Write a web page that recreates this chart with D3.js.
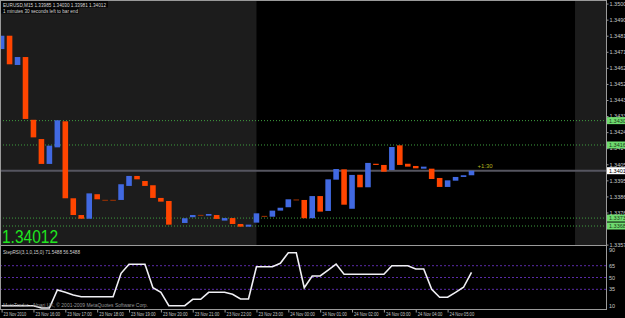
<!DOCTYPE html>
<html>
<head>
<meta charset="utf-8">
<script src="https://cdn.jsdelivr.net/npm/d3@7"></script>
<style>
  html, body { margin: 0; padding: 0; background: #000; overflow: hidden; }
  svg { display: block; }
  text { font-family: 'Liberation Sans', Arial, sans-serif; }
</style>
</head>
<body>
<div id="chart"></div>
<script>
// EURUSD M15 bars, 23 Nov 2010 15:00 -> 24 Nov 2010 05:45
const barTimes = [
  '2010-11-23 15:00', '2010-11-23 15:15', '2010-11-23 15:30', '2010-11-23 15:45',
  '2010-11-23 16:00', '2010-11-23 16:15', '2010-11-23 16:30', '2010-11-23 16:45',
  '2010-11-23 17:00', '2010-11-23 17:15', '2010-11-23 17:30', '2010-11-23 17:45',
  '2010-11-23 18:00', '2010-11-23 18:15', '2010-11-23 18:30', '2010-11-23 18:45',
  '2010-11-23 19:00', '2010-11-23 19:15', '2010-11-23 19:30', '2010-11-23 19:45',
  '2010-11-23 20:00', '2010-11-23 20:15', '2010-11-23 20:30', '2010-11-23 20:45',
  '2010-11-23 21:00', '2010-11-23 21:15', '2010-11-23 21:30', '2010-11-23 21:45',
  '2010-11-23 22:00', '2010-11-23 22:15', '2010-11-23 22:30', '2010-11-23 22:45',
  '2010-11-23 23:00', '2010-11-23 23:15', '2010-11-23 23:30', '2010-11-23 23:45',
  '2010-11-24 00:00', '2010-11-24 00:15', '2010-11-24 00:30', '2010-11-24 00:45',
  '2010-11-24 01:00', '2010-11-24 01:15', '2010-11-24 01:30', '2010-11-24 01:45',
  '2010-11-24 02:00', '2010-11-24 02:15', '2010-11-24 02:30', '2010-11-24 02:45',
  '2010-11-24 03:00', '2010-11-24 03:15', '2010-11-24 03:30', '2010-11-24 03:45',
  '2010-11-24 04:00', '2010-11-24 04:15', '2010-11-24 04:30', '2010-11-24 04:45',
  '2010-11-24 05:00', '2010-11-24 05:15', '2010-11-24 05:30', '2010-11-24 05:45'
]

const opens = [
  1.34731, 1.34810, 1.34637, 1.34684, 1.34313, 1.34199, 1.34052, 1.34150, 1.34304, 1.33849,
  1.33750, 1.33728, 1.33873, 1.33837, 1.33837, 1.33839, 1.33922, 1.33981, 1.33951, 1.33926,
  1.33851, 1.33833, null, 1.33703, 1.33737, 1.33748, 1.33746, 1.33750, 1.33717, 1.33732,
  1.33697, 1.33681, 1.33705, 1.33742, 1.33740, 1.33776, 1.33796, 1.33839, 1.33839, 1.33731,
  1.33862, 1.33774, 1.33959, 1.34020, 1.33787, 1.33988, 1.33914, 1.34053, 1.34046, 1.34016,
  1.34162, 1.34053, 1.34040, 1.34024, 1.34024, 1.33969, 1.33916, 1.33953, 1.33975, 1.33985
]
const closes = [
  1.34810, 1.34641, 1.34684, 1.34318, 1.34209, 1.34052, 1.34160, 1.34310, 1.33849, 1.33750,
  1.33728, 1.33878, 1.33843, 1.33837, 1.33837, 1.33932, 1.33981, 1.33961, 1.33922, 1.33851,
  1.33829, 1.33693, null, 1.33731, 1.33750, 1.33748, 1.33756, 1.33727, 1.33732, 1.33697,
  1.33681, 1.33693, 1.33760, 1.33742, 1.33776, 1.33793, 1.33843, 1.33839, 1.33731, 1.33862,
  1.33770, 1.33961, 1.34022, 1.33811, 1.33987, 1.33914, 1.34058, 1.34046, 1.34006, 1.34152,
  1.34046, 1.34036, 1.34026, 1.34036, 1.33963, 1.33916, 1.33955, 1.33975, 1.33985, 1.34012
]
const lastHigh = 1.34030
const lastLow = 1.33981

const stepRsi = [
  14.2, 14.2, 14.2, 14.2, 14.2, 11.3, 11.3, 34.1, 31.2, 27.8,
  25.6, 25.6, 25.6, 25.6, 25.6, 55.3, 66.8, 66.8, 66.8, 37.0,
  31.2, 14.2, 14.2, 14.2, 22.3, 22.3, 31.2, 31.2, 31.2, 28.7,
  22.7, 22.7, 63.7, 63.7, 63.7, 68.0, 81.5, 81.5, 37.0, 51.9,
  51.9, 59.5, 67.1, 54.1, 54.1, 54.1, 54.1, 54.1, 54.1, 65.0,
  65.0, 65.0, 60.8, 60.8, 35.0, 24.9, 24.9, 31.2, 37.6, 56.5
]

const priceTicks = [1.35000, 1.34905, 1.34810, 1.34715, 1.34620, 1.34525, 1.34430, 1.34335,
  1.34240, 1.34145, 1.34050, 1.33955, 1.33860, 1.33765, 1.33575]
const levelPrices = [1.34308, 1.34164, 1.33732, 1.33685]
const rsiTicks = [90, 65, 50, 35, 10]
const rsiLevels = [65, 50, 35]
// shaded (off-session) time spans
const shadeSpans = [['2010-11-23 14:00', '2010-11-23 23:00'], ['2010-11-24 09:00', '2010-11-24 11:00']]

const parse = d3.timeParse('%Y-%m-%d %H:%M')
const bars = barTimes.map((t, i) => ({ t: parse(t), o: opens[i], c: closes[i] }))

let svgWidth = 625,
  svgHeight = 318
let plotRight = 606
let mainTop = 0, mainBottom = 245
let indTop = 246, indBottom = 309

let svg = d3.select('#chart').append('svg')
  .attr('width', svgWidth)
  .attr('height', svgHeight)

svg.append('rect').attr('width', svgWidth).attr('height', svgHeight).attr('fill', '#000')

// scales
let x = d3.scaleTime()
  .domain([bars[0].t, bars[bars.length - 1].t])
  .range([1.6, 471.5])
let step = x(bars[1].t) - x(bars[0].t)

let lastClose = closes[closes.length - 1]
let pxPerPrice = 16.07 / 0.00095
let y = d3.scaleLinear()
  .domain([1.335, 1.351])
  .range([170.7 + (lastClose - 1.335) * pxPerPrice, 170.7 - (1.351 - lastClose) * pxPerPrice])

let yr = d3.scaleLinear().domain([10, 90]).range([indBottom, indTop])

// clip for main window
svg.append('clipPath').attr('id', 'mainClip')
  .append('rect').attr('x', 1).attr('y', 1).attr('width', plotRight - 1).attr('height', mainBottom - 1)

let main = svg.append('g').attr('clip-path', 'url(#mainClip)')

// shaded spans
main.selectAll('.shade')
  .data(shadeSpans)
  .enter()
  .append('rect')
  .attr('class', 'shade')
  .attr('x', (d) => Math.max(0, x(parse(d[0]))))
  .attr('y', mainTop)
  .attr('width', (d) => Math.min(plotRight, x(parse(d[1]))) - Math.max(0, x(parse(d[0]))))
  .attr('height', mainBottom - mainTop)
  .attr('fill', '#1c1c1c')

// green level lines
main.selectAll('.lvl')
  .data(levelPrices)
  .enter()
  .append('line')
  .attr('x1', 0).attr('x2', plotRight)
  .attr('y1', (d) => y(d)).attr('y2', (d) => y(d))
  .attr('stroke', '#3f9f3f')
  .attr('stroke-width', 1)
  .attr('stroke-dasharray', '1,2')

// bid line
main.append('line')
  .attr('x1', 0).attr('x2', plotRight)
  .attr('y1', y(lastClose)).attr('y2', y(lastClose))
  .attr('stroke', '#55555f')
  .attr('stroke-width', 2)

// candles
let bodyW = step * 0.7
let candles = bars.filter((d) => d.o != null)
main.selectAll('.body')
  .data(candles.filter((d) => d.o !== d.c))
  .enter()
  .append('rect')
  .attr('x', (d) => x(d.t) - bodyW / 2)
  .attr('y', (d) => y(Math.max(d.o, d.c)))
  .attr('width', bodyW)
  .attr('height', (d) => Math.max(1, Math.abs(y(d.o) - y(d.c))))
  .attr('fill', (d) => (d.c > d.o ? '#4169e1' : '#ff4500'))

main.selectAll('.doji')
  .data(candles.filter((d) => d.o === d.c))
  .enter()
  .append('line')
  .attr('x1', (d) => x(d.t) - bodyW / 2)
  .attr('x2', (d) => x(d.t) + bodyW / 2)
  .attr('y1', (d) => y(d.o)).attr('y2', (d) => y(d.o))
  .attr('stroke', '#a23200')
  .attr('stroke-width', 1)

// countdown label
main.append('text')
  .attr('x', x(bars[bars.length - 1].t) + 6)
  .attr('y', y(lastClose) - 2.5)
  .attr('fill', '#b4b41e')
  .attr('font-size', 6)
  .text('+1:30')

// header texts
main.append('rect').attr('x', 1).attr('y', 1).attr('width', 107).attr('height', 6.5).attr('fill', '#050505')
main.append('rect').attr('x', 1).attr('y', 7.5).attr('width', 78).attr('height', 6).attr('fill', '#050505')
main.append('text')
  .attr('x', 3).attr('y', 6.8)
  .attr('fill', '#d8d8d8').attr('font-size', 6)
  .attr('textLength', 103).attr('lengthAdjust', 'spacingAndGlyphs')
  .text('EURUSD,M15  ' + [opens[opens.length - 1], lastHigh, lastLow, lastClose].map(d3.format('.5f')).join(' '))
main.append('text')
  .attr('x', 3).attr('y', 12.6)
  .attr('fill', '#d8d8d8').attr('font-size', 6)
  .attr('textLength', 75).attr('lengthAdjust', 'spacingAndGlyphs')
  .text('1 minutes 30 seconds left to bar end')

// big price
main.append('text')
  .attr('x', 2).attr('y', 242.5)
  .attr('fill', '#1fe61f')
  .attr('font-size', 19)
  .attr('textLength', 56).attr('lengthAdjust', 'spacingAndGlyphs')
  .text(d3.format('.5f')(lastClose))

// indicator window
svg.append('clipPath').attr('id', 'indClip')
  .append('rect').attr('x', 1).attr('y', indTop).attr('width', plotRight - 1).attr('height', indBottom - indTop)
let ind = svg.append('g').attr('clip-path', 'url(#indClip)')

ind.selectAll('.rl')
  .data(rsiLevels)
  .enter()
  .append('line')
  .attr('x1', 0).attr('x2', plotRight)
  .attr('y1', (d) => yr(d)).attr('y2', (d) => yr(d))
  .attr('stroke', '#5a2aa8')
  .attr('stroke-width', 1)
  .attr('stroke-dasharray', '2,2')

ind.append('path')
  .datum(stepRsi)
  .attr('d', d3.line()
    .x((d, i) => x(bars[i].t))
    .y((d) => yr(d)))
  .attr('fill', 'none')
  .attr('stroke', '#f0f0f4')
  .attr('stroke-width', 1.6)

ind.append('text')
  .attr('x', 3).attr('y', 254)
  .attr('fill', '#d0d0d0').attr('font-size', 5.5)
  .attr('textLength', 77).attr('lengthAdjust', 'spacingAndGlyphs')
  .text('StepRSI(3,1,0,15,0) ' + '71.5488 ' + '56.5488')

ind.append('text')
  .attr('x', 3).attr('y', 307)
  .attr('fill', '#9a9a9a').attr('font-size', 5.5)
  .attr('textLength', 145).attr('lengthAdjust', 'spacingAndGlyphs')
  .text('MetaTrader - Alpari UK, \u00a9 2001-2009 MetaQuotes Software Corp.')

// frames
let frame = svg.append('g').attr('stroke', '#9a9a9a').attr('stroke-width', 1).attr('fill', 'none')
frame.append('line').attr('x1', 0.5).attr('x2', 0.5).attr('y1', 0).attr('y2', indBottom)
frame.append('line').attr('x1', 0).attr('x2', plotRight).attr('y1', 0.5).attr('y2', 0.5)
frame.append('line').attr('x1', 0).attr('x2', plotRight).attr('y1', mainBottom + 0.5).attr('y2', mainBottom + 0.5)
frame.append('line').attr('x1', 0).attr('x2', plotRight).attr('y1', indBottom + 0.5).attr('y2', indBottom + 0.5)
frame.append('line').attr('x1', plotRight + 0.5).attr('x2', plotRight + 0.5).attr('y1', 0).attr('y2', indBottom + 1)

// price axis
let priceAxis = svg.append('g')
  .attr('transform', 'translate(' + (plotRight + 0.5) + ',0)')
  .call(d3.axisRight(y).tickValues(priceTicks).tickFormat(d3.format('.5f')).tickSize(2).tickPadding(1))
priceAxis.select('.domain').remove()
priceAxis.selectAll('line').attr('stroke', '#9a9a9a')
priceAxis.selectAll('text').attr('fill', '#c8c8c8').attr('font-size', 5.5).attr('font-family', null)

// price labels for levels and bid
let tags = svg.append('g')
tags.selectAll('.gtag')
  .data(levelPrices)
  .enter()
  .append('rect')
  .attr('x', plotRight + 1).attr('y', (d) => y(d) - 3.5)
  .attr('width', 20).attr('height', 7)
  .attr('fill', '#6fdc6f')
tags.selectAll('.gtxt')
  .data(levelPrices)
  .enter()
  .append('text')
  .attr('x', plotRight + 3).attr('y', (d) => y(d) + 2)
  .attr('fill', '#1a3a1a').attr('font-size', 5.5)
  .text((d) => d3.format('.5f')(d))
tags.append('rect')
  .attr('x', plotRight + 1).attr('y', y(lastClose) - 3.5)
  .attr('width', 20).attr('height', 7)
  .attr('fill', '#ffffff')
tags.append('text')
  .attr('x', plotRight + 3).attr('y', y(lastClose) + 2)
  .attr('fill', '#000').attr('font-size', 5.5)
  .text(d3.format('.5f')(lastClose))

// indicator axis
let rsiAxis = svg.append('g')
rsiAxis.selectAll('text')
  .data(rsiTicks)
  .enter()
  .append('text')
  .attr('x', plotRight + 3)
  .attr('y', (d) => Math.min(indBottom - 1.5, Math.max(indTop + 6, yr(d) + 2)))
  .attr('fill', '#c8c8c8').attr('font-size', 5.5)
  .text((d) => d)

// time axis
let hourTicks = bars.filter((d) => d.t.getMinutes() === 0).map((d) => d.t)
let fmtFirst = d3.timeFormat('%d %b %Y')
let fmtHour = d3.timeFormat('%d %b %H:%M')
let timeAxis = svg.append('g')
  .attr('transform', 'translate(0,' + (indBottom + 0.5) + ')')
  .call(d3.axisBottom(x).tickValues(hourTicks)
    .tickFormat((d, i) => (i === 0 ? fmtFirst(d) : fmtHour(d)))
    .tickSize(3).tickPadding(1))
timeAxis.select('.domain').remove()
timeAxis.selectAll('line').attr('stroke', '#9a9a9a')
timeAxis.selectAll('text')
  .attr('fill', '#c8c8c8')
  .attr('font-size', 5.5)
  .attr('font-family', null)
  .attr('text-anchor', 'start')
  .attr('x', 1.5)
  .attr('y', 2.5)
  .attr('textLength', function () { return this.textContent.length * 2.05 })
  .attr('lengthAdjust', 'spacingAndGlyphs')
</script>
</body>
</html>
